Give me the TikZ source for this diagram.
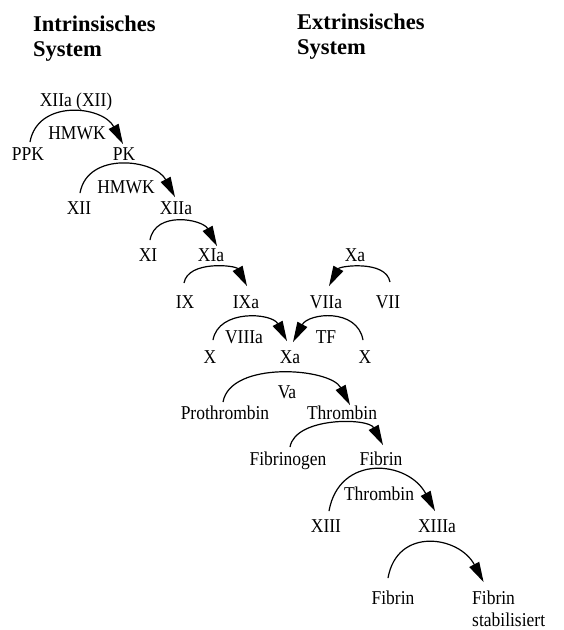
\documentclass[tikz,border=0pt]{standalone}
\usepackage{fontspec}
\setmainfont{Liberation Serif}
\usepackage{tikz}
\usetikzlibrary{arrows.meta,calc,positioning}

\tikzset{
  fac/.style={font=\fontsize{17.5}{17.5}\selectfont, inner sep=0pt, text height=12pt, text depth=0pt, yscale=1.12},
  head/.style={font=\fontsize{22.5}{26}\selectfont\bfseries, inner sep=0pt, anchor=west},
  act/.style={line width=1.2pt, -{Triangle[length=20pt,width=11pt]}},
  actr/.style={act, out=80, in=118},
  actl/.style={act, out=100, in=62}
}

\begin{document}
\begin{tikzpicture}[x=1pt,y=-1pt]
\useasboundingbox (0,0) rectangle (564,630);
% headings
\node[head] (intr) at (33,24) {Intrinsisches};
\node[head] (intrs) at (33,51) {System};
\node[head] (extr) at (297,22) {Extrinsisches};
\node[head] (extrs) at (297,49) {System};

% intrinsic cascade
\node[fac] (xiiaxii) at (76,100) {XIIa (XII)};
\node[fac] (hmwka) at (77,133) {HMWK};
\node[fac] (ppk) at (28,154) {PPK};
\node[fac] (pk) at (124,154) {PK};
\node[fac] (hmwkb) at (126,187) {HMWK};
\node[fac] (xii) at (79,208) {XII};
\node[fac] (xiia) at (176,208) {XIIa};
\node[fac] (xi) at (148,255) {XI};
\node[fac] (xia) at (211,255) {XIa};
\node[fac] (ix) at (185,302) {IX};
\node[fac] (ixa) at (246,302) {IXa};

% extrinsic cascade
\node[fac] (xatop) at (355,255) {Xa};
\node[fac] (viia) at (326,302) {VIIa};
\node[fac] (vii) at (388,302) {VII};

% common pathway
\node[fac] (viiia) at (244,337) {VIIIa};
\node[fac] (tf) at (326,337) {TF};
\node[fac] (xl) at (210,357) {X};
\node[fac] (xa) at (290,357) {Xa};
\node[fac] (xr) at (365,357) {X};
\node[fac] (va) at (287,392) {Va};
\node[fac] (proth) at (225,413) {Prothrombin};
\node[fac] (thromb) at (342,413) {Thrombin};
\node[fac] (fibrinogen) at (288,459) {Fibrinogen};
\node[fac] (fibrin) at (381,459) {Fibrin};
\node[fac] (thrombb) at (379,494) {Thrombin};
\node[fac] (xiii) at (326,526) {XIII};
\node[fac] (xiiia) at (437,526) {XIIIa};
\node[fac] (fibrinb) at (393,598) {Fibrin};
\node[fac, anchor=west] (fibst) at (472,598) {Fibrin};
\node[fac, anchor=west] (stab) at (472,620) {stabilisiert};

% activation arcs
\draw[actr, looseness=1.2] ([shift={(2,-5)}]ppk.north) to ([shift={(-1,-3)}]pk.north);
\draw[actr, looseness=1.15] ([shift={(1,-8)}]xii.north) to ([shift={(-1,-4)}]xiia.north);
\draw[actr, looseness=1.15] ([shift={(2,-8)}]xi.north) to ([shift={(6,-2)}]xia.north);
\draw[actr, looseness=0.95] ([shift={(-1,-12)}]ix.north) to ([shift={(1,-9)}]ixa.north);
\draw[actl, looseness=0.95] ([shift={(2,-13)}]vii.north) to ([shift={(3,-9)}]viia.north);
\draw[actr, looseness=1.1] ([shift={(3,-10)}]xl.north) to ([shift={(-3,-9)}]xa.north);
\draw[actl, looseness=1.2] ([shift={(-2,-10)}]xr.north) to ([shift={(3,-8)}]xa.north);
\draw[actr, looseness=0.85] ([shift={(-2,-4)}]proth.north) to ([shift={(8,-1)}]thromb.north);
\draw[actr, looseness=0.85] ([shift={(2,-5)}]fibrinogen.north) to ([shift={(2,-7)}]fibrin.north);
\draw[actr, looseness=1.4] ([shift={(3,-8)}]xiii.north) to ([shift={(-2,-8)}]xiiia.north);
\draw[actr, looseness=1.4] ([shift={(-5,-13)}]fibrinb.north) to ([shift={(-10,-9)}]fibst.north);
\end{tikzpicture}
\end{document}
